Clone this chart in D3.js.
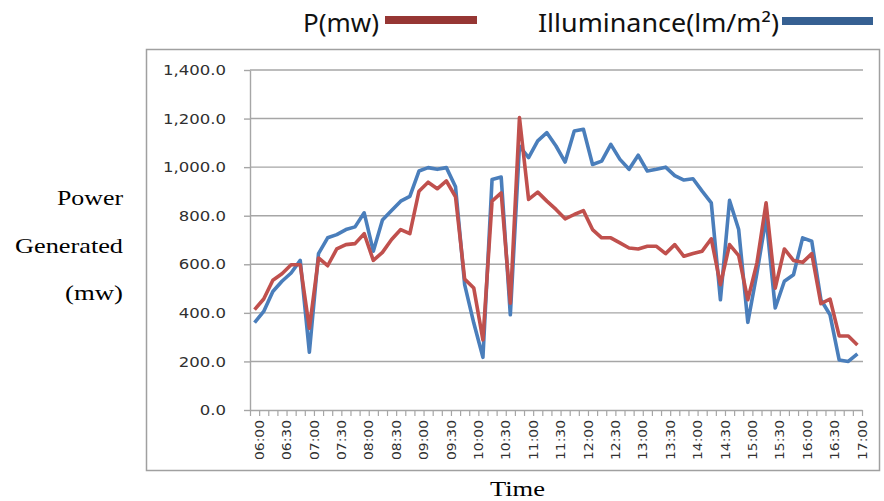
<!DOCTYPE html>
<html>
<head>
<meta charset="utf-8">
<script src="https://cdn.jsdelivr.net/npm/d3@7/dist/d3.min.js"></script>
<style>
  html, body { margin: 0; padding: 0; background: #fff; }
  svg { display: block; }
</style>
</head>
<body>
<svg id="chart" width="884" height="501"></svg>
<script>
// ---- data ----
const times = [
  "06:00","06:10","06:20","06:30","06:40","06:50",
  "07:00","07:10","07:20","07:30","07:40","07:50",
  "08:00","08:10","08:20","08:30","08:40","08:50",
  "09:00","09:10","09:20","09:30","09:40","09:50",
  "10:00","10:10","10:20","10:30","10:40","10:50",
  "11:00","11:10","11:20","11:30","11:40","11:50",
  "12:00","12:10","12:20","12:30","12:40","12:50",
  "13:00","13:10","13:20","13:30","13:40","13:50",
  "14:00","14:10","14:20","14:30","14:40","14:50",
  "15:00","15:10","15:20","15:30","15:40","15:50",
  "16:00","16:10","16:20","16:30","16:40","16:50",
  "17:00"
];
const power = [
  413, 457, 534, 561, 598, 598,
  337, 626, 594, 663, 681, 685,
  726, 616, 649, 702, 743, 726,
  901, 938, 911, 943, 878, 539,
  502, 289, 860, 894, 440, 1204,
  867, 897, 860, 826, 787, 805,
  821, 743, 709, 709, 688, 667,
  663, 674, 674, 644, 681, 633,
  644, 654, 705, 516, 681, 636,
  454, 606, 853, 502, 663, 616,
  608, 644, 438, 457, 305, 305,
  268
];
const illuminance = [
  360, 406, 488, 530, 564, 616,
  238, 644, 709, 722, 743, 754,
  812, 654, 782, 821, 860, 880,
  984, 998, 991, 998, 919, 516,
  358, 217, 949, 959, 392, 1087,
  1039, 1108, 1142, 1087, 1021, 1149,
  1156, 1011, 1025, 1094, 1032, 991,
  1049, 984, 991, 1000, 965, 947,
  952, 901, 853, 454, 863, 743,
  361, 564, 791, 420, 530, 557,
  709, 695, 454, 392, 206, 200,
  231
];
const yTicks = [0, 200, 400, 600, 800, 1000, 1200, 1400];
const xLabels = ["06:00","06:30","07:00","07:30","08:00","08:30","09:00","09:30",
  "10:00","10:30","11:00","11:30","12:00","12:30","13:00","13:30","14:00","14:30",
  "15:00","15:30","16:00","16:30","17:00"];
const seriesNames = ["P(mw)", "Illuminance(lm/m\u00B2)"];
const yTitleLines = ["Power", "Generated", "(mw)"];
const xTitle = "Time";

// ---- layout ----
const svg = d3.select("#chart");
const plot = { left: 250, right: 862, top: 70, bottom: 410 };

const x = d3.scaleBand().domain(times).range([plot.left, plot.right]).padding(0);
const xi = d3.scaleLinear().domain([0, times.length]).range([plot.left, plot.right]);
const y = d3.scaleLinear().domain([0, 1400]).range([plot.bottom, plot.top]);

// outer chart frame
svg.append("rect")
  .attr("x", 146.5).attr("y", 49.5).attr("width", 733).attr("height", 421)
  .attr("fill", "none").attr("stroke", "#a0a0a0").attr("stroke-width", 1.5);

// gridlines
svg.append("g").selectAll("line").data(yTicks.filter(d => d > 0)).join("line")
  .attr("x1", plot.left).attr("x2", plot.right + 1)
  .attr("y1", d => y(d)).attr("y2", d => y(d))
  .attr("stroke", "#a6a6a6").attr("stroke-width", 1.4);

// y axis
const yAxis = svg.append("g").attr("transform", `translate(${plot.left},0)`)
  .call(d3.axisLeft(y).tickValues(yTicks).tickFormat(d3.format(",.1f"))
    .tickSizeInner(6).tickSizeOuter(0).tickPadding(18));
yAxis.select(".domain").attr("stroke", "#a6a6a6").attr("stroke-width", 1.4);
yAxis.selectAll(".tick line").attr("stroke", "#a6a6a6").attr("stroke-width", 1.4);
yAxis.selectAll("text")
  .attr("font-family", "'DejaVu Sans', sans-serif").attr("font-size", 14.5)
  .attr("fill", "#303030")
  .each(function () {
    const w = this.getComputedTextLength();
    d3.select(this).attr("textLength", w * 1.14).attr("lengthAdjust", "spacingAndGlyphs");
  });

// x axis: tick marks at category boundaries
const xTickAxis = svg.append("g").attr("transform", `translate(0,${plot.bottom})`)
  .call(d3.axisBottom(xi).tickValues(d3.range(times.length + 1)).tickFormat("")
    .tickSizeInner(6).tickSizeOuter(0));
xTickAxis.select(".domain").attr("stroke", "#a6a6a6").attr("stroke-width", 1.4);
xTickAxis.selectAll(".tick line").attr("stroke", "#a6a6a6").attr("stroke-width", 1.2);

// x axis labels (every 30 minutes)
const xLabelAxis = svg.append("g").attr("transform", `translate(${x.bandwidth() / 2},${plot.bottom})`)
  .call(d3.axisBottom(x).tickValues(xLabels).tickSize(0).tickPadding(0));
xLabelAxis.select(".domain").remove();
xLabelAxis.selectAll("text")
  .attr("font-family", "'DejaVu Sans', sans-serif").attr("font-size", 13)
  .attr("fill", "#303030")
  .attr("text-anchor", "end")
  .attr("dy", "0.35em")
  .attr("transform", "translate(0,10) rotate(-90)")
  .attr("x", 0).attr("y", 0)
  .attr("textLength", 40).attr("lengthAdjust", "spacingAndGlyphs");

// lines
const line = d3.line().x((d, i) => x(times[i]) + x.bandwidth() / 2).y(d => y(d));
svg.append("path").datum(illuminance)
  .attr("d", line).attr("fill", "none")
  .attr("stroke", "#4A7EBB").attr("stroke-width", 3.6).attr("stroke-linejoin", "round");
svg.append("path").datum(power)
  .attr("d", line).attr("fill", "none")
  .attr("stroke", "#C0504D").attr("stroke-width", 3.6).attr("stroke-linejoin", "round");

// legend
const legend = [
  { name: seriesNames[0], tx: 303, tw: 76, sx: 385, sw: 92, sy: 16, color: "#963634" },
  { name: seriesNames[1], tx: 538, tw: 241, sx: 782, sw: 91, sy: 17, color: "#366092" }
];
const lg = svg.append("g");
legend.forEach(l => {
  lg.append("text").attr("x", l.tx).attr("y", 32)
    .attr("font-family", "'Noto Sans', sans-serif").attr("font-size", 25)
    .attr("fill", "#111")
    .attr("textLength", l.tw).attr("lengthAdjust", "spacingAndGlyphs")
    .text(l.name);
  lg.append("rect").attr("x", l.sx).attr("y", l.sy).attr("width", l.sw).attr("height", 8)
    .attr("fill", l.color);
});

// axis titles
const yTitleBase = [205, 253, 300];
const yTitleW = [66, 108, 58];
yTitleLines.forEach((t, i) => {
  svg.append("text").attr("x", 123 - yTitleW[i]).attr("y", yTitleBase[i])
    .attr("font-family", "'Liberation Serif', 'Times New Roman', serif").attr("font-size", 21)
    .attr("fill", "#000")
    .attr("textLength", yTitleW[i]).attr("lengthAdjust", "spacingAndGlyphs")
    .text(t);
});
svg.append("text").attr("x", 490).attr("y", 496)
  .attr("font-family", "'Liberation Serif', 'Times New Roman', serif").attr("font-size", 21)
  .attr("fill", "#000")
  .attr("textLength", 55).attr("lengthAdjust", "spacingAndGlyphs")
  .text(xTitle);
</script>
</body>
</html>
